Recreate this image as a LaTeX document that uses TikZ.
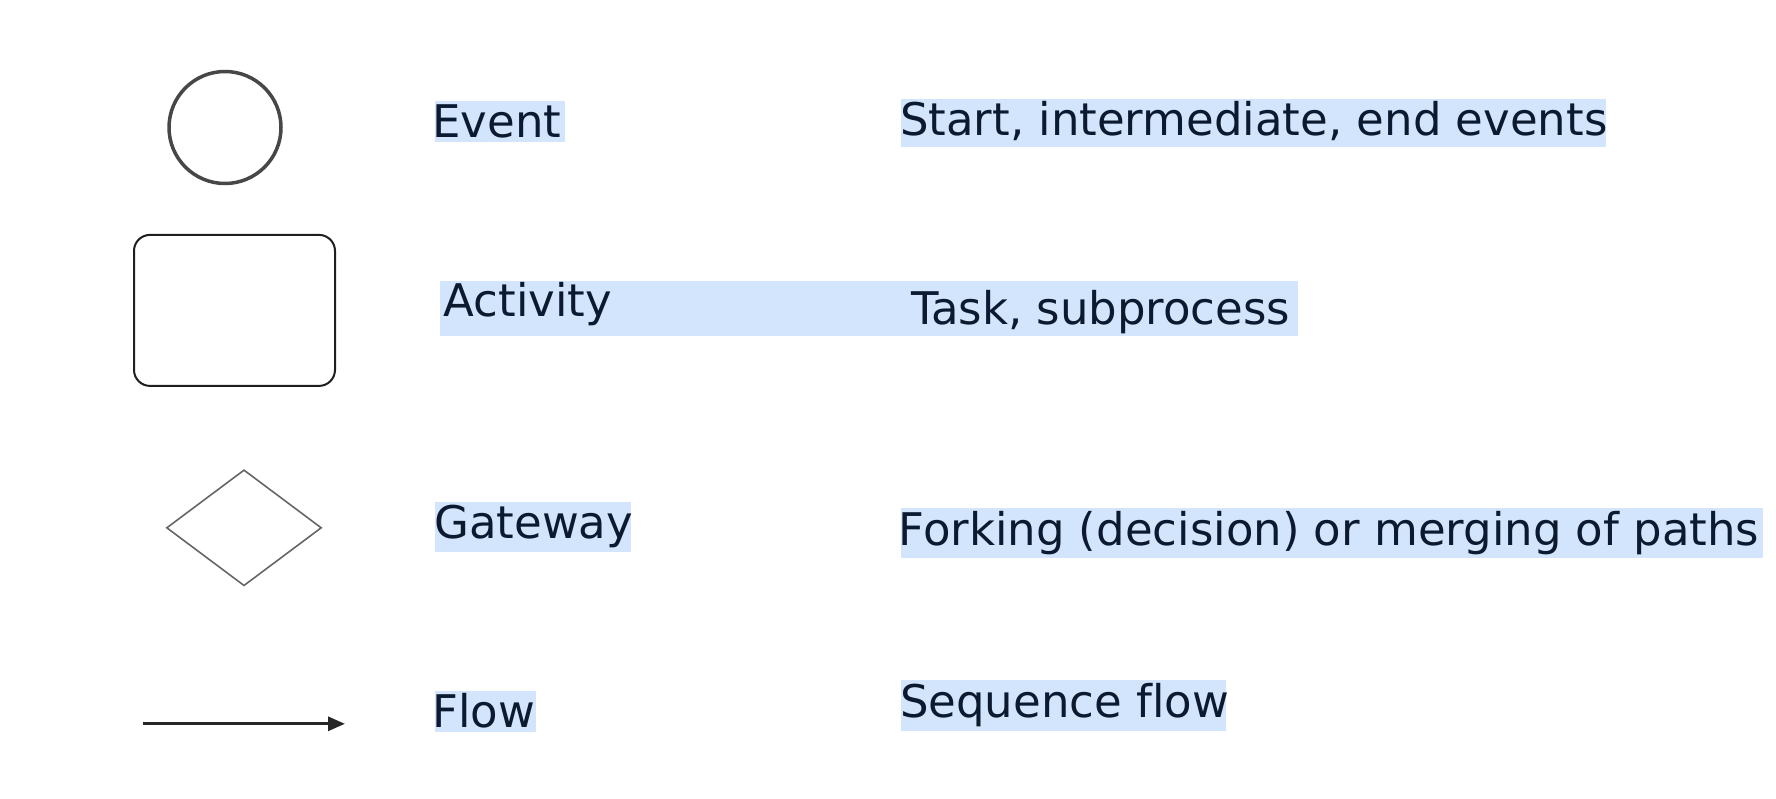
\documentclass[tikz,border=0pt]{standalone}
\usepackage{fontspec}
\setmainfont{DejaVu Sans}[Ligatures=NoCommon]
\usetikzlibrary{shapes.geometric,arrows.meta}
\definecolor{ink}{HTML}{0C1A30}
\definecolor{hlblue}{HTML}{D3E5FC}
\tikzset{
  hl/.style={fill=hlblue, draw=none, inner sep=0pt, outer sep=0pt, anchor=north west},
  lbl/.style={text=ink, inner sep=0pt, outer sep=0pt, anchor=base west, font=\fontsize{45}{45}\selectfont},
  evshape/.style={circle, draw=black!72, line width=3.5pt, minimum size=112pt, inner sep=0pt},
  actshape/.style={rectangle, rounded corners=16pt, draw=black!88, line width=2pt, minimum width=201pt, minimum height=151pt, inner sep=0pt},
  gwshape/.style={diamond, draw=black!60, line width=1.6pt, minimum width=155pt, minimum height=116pt, inner sep=0pt},
  flowline/.style={draw=black!85, line width=3pt, -{Triangle[length=17pt,width=14pt]}}
}
\begin{document}
\begin{tikzpicture}[x=1pt,y=1pt]
\useasboundingbox (0,0) rectangle (1776,-798);
% highlights
\node[hl, minimum width=130pt, minimum height=40.7pt] (hEvent) at (435,-101) {};
\node[hl, minimum width=705.5pt, minimum height=48.8pt] (hStart) at (900.5,-98.5) {};
\node[hl, minimum width=858pt, minimum height=55.4pt] (hAct) at (440,-281) {};
\node[hl, minimum width=196pt, minimum height=49.8pt] (hGate) at (435,-501.8) {};
\node[hl, minimum width=862pt, minimum height=50.9pt] (hFork) at (900.5,-507.5) {};
\node[hl, minimum width=100.8pt, minimum height=40.7pt] (hFlow) at (435,-691) {};
\node[hl, minimum width=325.1pt, minimum height=51pt] (hSeq) at (900.5,-679.6) {};
% shapes
\node[evshape] (event) at (225,-127.5) {};
\node[actshape] (activity) at (234.5,-310.4) {};
\node[gwshape] (gateway) at (244,-527.8) {};
\coordinate (fs) at (142.7,-723.8);
\coordinate (fe) at (345,-723.8);
\draw[flowline] (fs) -- (fe);
% labels
\node[lbl] (tEvent) at (432.4,-137.3) {Event};
\node[lbl] (tStart) at (900.1,-135.8) {Start, intermediate, end events};
\node[lbl] (tAct) at (443.6,-316.5) {Activity};
\node[lbl] (tTask) at (911,-324.8) {Task, subprocess};
\node[lbl] (tGate) at (434.3,-538.3) {Gateway};
\node[lbl] (tFork) at (898.7,-545.6) {Forking (decision) or merging of paths};
\node[lbl] (tFlow) at (432.5,-727.8) {Flow};
\node[lbl] (tSeq) at (900.1,-717.7) {Sequence flow};
\end{tikzpicture}
\end{document}
